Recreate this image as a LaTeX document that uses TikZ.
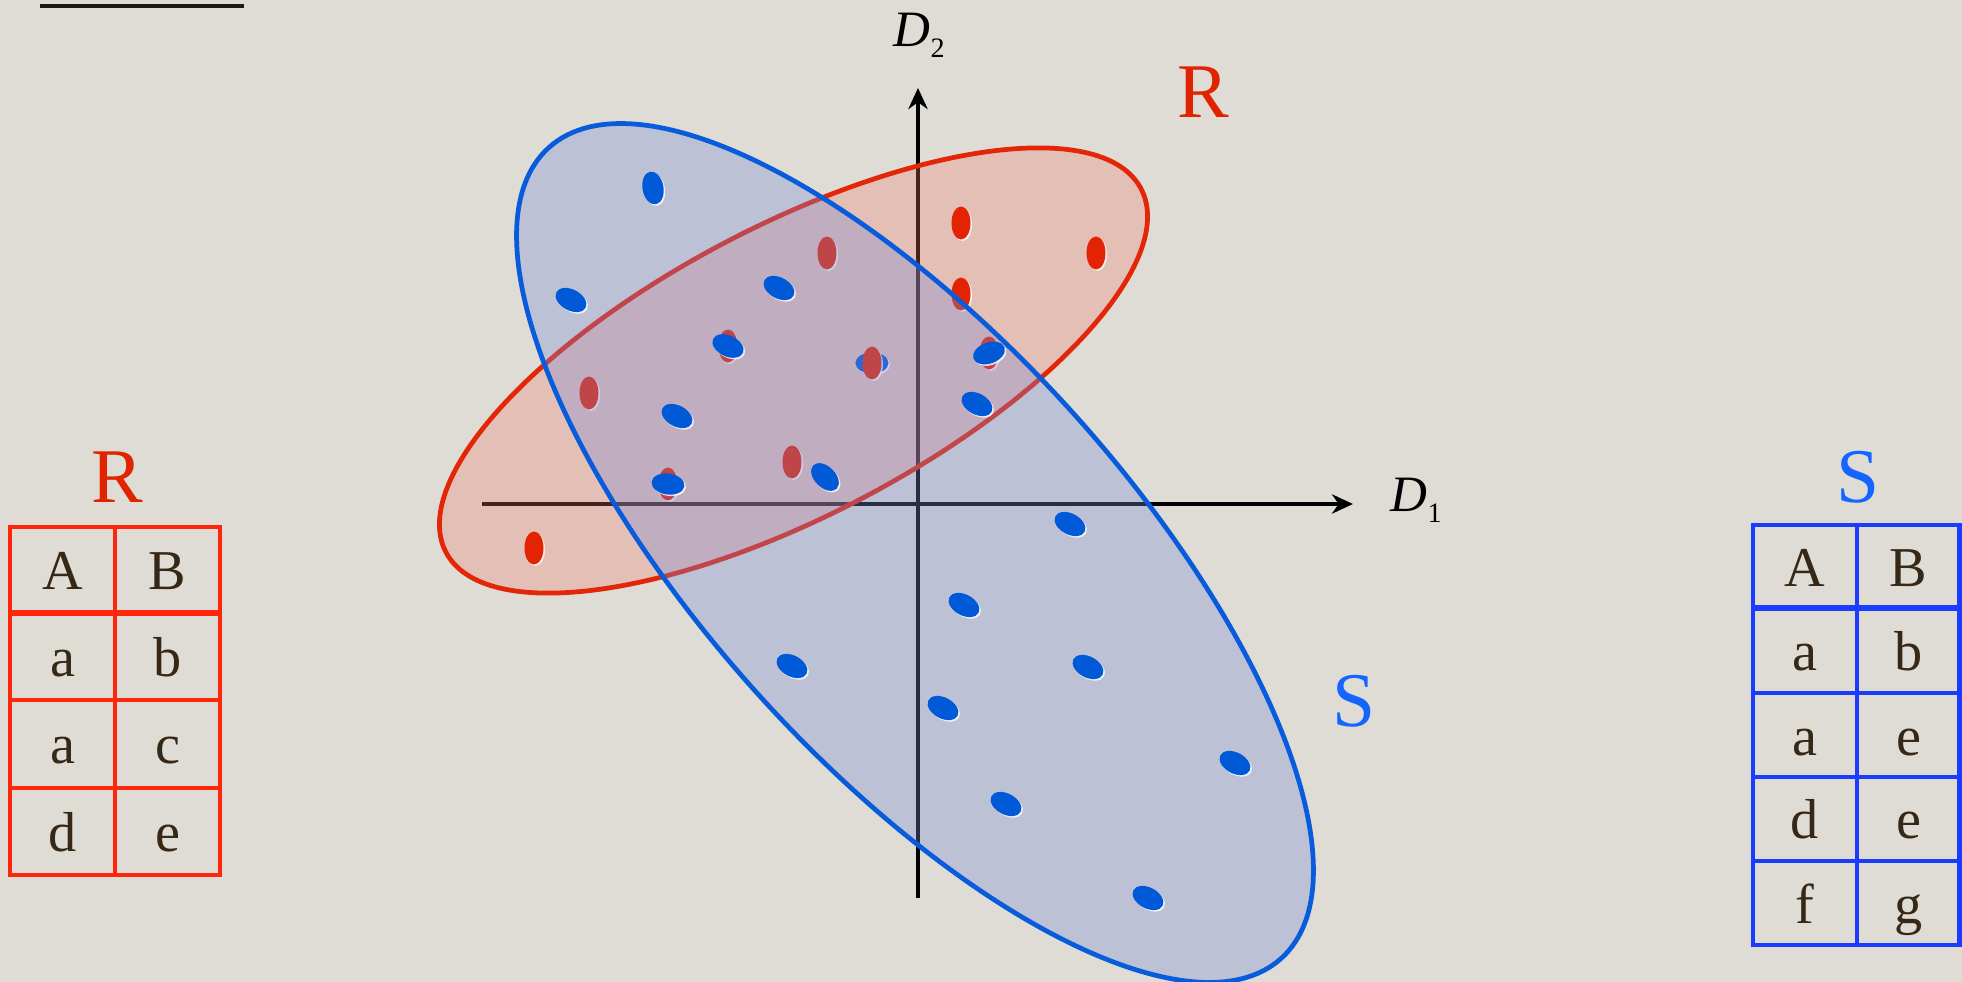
\documentclass[tikz,border=0pt]{standalone}
\usepackage{fontspec}
\setmainfont{Liberation Serif}
\usetikzlibrary{arrows.meta}
\definecolor{bgc}{RGB}{222,220,213}
\definecolor{redline}{RGB}{228,38,8}
\definecolor{redfillc}{RGB}{241,121,103}
\definecolor{bluefillc}{RGB}{123,138,215}
\definecolor{blueline}{RGB}{8,92,220}
\definecolor{bdotc}{RGB}{0,90,215}
\definecolor{rdotc}{RGB}{226,36,4}
\definecolor{tabred}{RGB}{255,38,12}
\definecolor{tabblue}{RGB}{25,60,255}
\definecolor{labR}{RGB}{225,35,0}
\definecolor{labS}{RGB}{20,100,255}
\definecolor{txtc}{RGB}{55,40,22}
\newcommand\reddot[2]{%
  \fill[white,opacity=.75,shift={(#1+1.5,#2+1.5)}] (0,0) ellipse [x radius=0.095cm,y radius=0.165cm];
  \fill[rdotc,shift={(#1,#2)}] (0,0) ellipse [x radius=0.095cm,y radius=0.165cm];}
\newcommand\bluedot[3]{%
  \fill[white,opacity=.8,shift={(#1+1.5,#2+1.5)},rotate=#3] (0,0) ellipse [x radius=0.165cm,y radius=0.105cm];
  \fill[bdotc,shift={(#1,#2)},rotate=#3] (0,0) ellipse [x radius=0.165cm,y radius=0.105cm];}
\begin{document}
\begin{tikzpicture}[x=0.01cm,y=-0.01cm,
  axis/.style={line width=1pt,draw=black,-{Stealth[length=6pt,width=5.5pt]}},
  lbl/.style={font=\fontsize{22}{26}\selectfont,inner sep=0pt,anchor=base},
  cell/.style={font=\fontsize{16}{19}\selectfont,text=txtc,inner sep=0pt,anchor=base},
  tabR/.style={draw=tabred,line width=1.2pt},
  tabS/.style={draw=tabblue,line width=1.2pt},
  dlbl/.style={font=\fontsize{14.5}{17}\selectfont,inner sep=0pt,anchor=base west}]
\fill[bgc] (0,0) rectangle (1962,982);
\useasboundingbox (0,0) rectangle (1962,982);
% top-left rule
\coordinate (rl) at (40,6); \coordinate (rr) at (244,6);
\draw[line width=1.1pt,black!90] (rl) -- (rr);
% axes
\coordinate (xl) at (482,504); \coordinate (xr) at (1353,504);
\coordinate (yb) at (918,898); \coordinate (yt) at (918,88);
\draw[axis] (xl) -- (xr);
\draw[axis] (yb) -- (yt);
\node[dlbl] (D1) at (1390,512) {\textit{D}\raisebox{-3pt}{\fontsize{8}{9}\selectfont 1}};
\node[dlbl] (D2) at (893,47) {\textit{D}\raisebox{-3pt}{\fontsize{8}{9}\selectfont 2}};
% red set
\fill[redfillc,fill opacity=0.29,shift={(793.5,370.5)},rotate=27.6] (0,0) ellipse [x radius=3.92cm,y radius=1.45cm];
\draw[redline,line width=1.35pt,shift={(793.5,370.5)},rotate=27.6] (0,0) ellipse [x radius=3.92cm,y radius=1.45cm];
\bluedot{872}{363}{0}
\reddot{961}{223}
\reddot{1096}{253}
\reddot{961}{294}
\reddot{827}{253}
\reddot{728}{346}
\reddot{872}{363}
\reddot{989}{353}
\reddot{589}{393}
\reddot{792}{462}
\reddot{668}{484}
\reddot{534}{548}
% blue set
\fill[bluefillc,fill opacity=0.325,shift={(915,553)},rotate=-47.9] (0,0) ellipse [x radius=5.46cm,y radius=2.11cm];
\draw[blueline,line width=1.35pt,shift={(915,553)},rotate=-47.9] (0,0) ellipse [x radius=5.46cm,y radius=2.11cm];
\bluedot{653}{188}{100}
\bluedot{571}{300}{-28}
\bluedot{779}{288}{-28}
\bluedot{728}{346}{-25}
\bluedot{989}{353}{20}
\bluedot{677}{416}{-28}
\bluedot{977}{404}{-28}
\bluedot{668}{484}{-8}
\bluedot{825}{477}{-45}
\bluedot{1070}{524}{-28}
\bluedot{964}{605}{-28}
\bluedot{1088}{667}{-28}
\bluedot{792}{666}{-28}
\bluedot{943}{708}{-28}
\bluedot{1235}{763}{-28}
\bluedot{1006}{804}{-28}
\bluedot{1148}{898}{-28}
% set labels
\node[lbl,text=labR] (Rlab) at (1203,118) {R};
\node[lbl,text=labS] (Slab) at (1354,726) {S};
% table R
\node[lbl,text=labR] (Rtab) at (117.5,502) {R};
\draw[tabR] (10,527) rectangle (220,875);
\draw[tabR] (115,527) -- (115,875);
\draw[tabR,line width=1.8pt] (10,613) -- (220,613);
\draw[tabR] (10,700) -- (220,700);
\draw[tabR] (10,788) -- (220,788);
\node[cell] (rA) at (62.5,590) {A};
\node[cell] (rB) at (167.5,590) {B};
\node[cell] (r1a) at (62.5,676) {a};
\node[cell] (r1b) at (167.5,676) {b};
\node[cell] (r2a) at (62.5,764) {a};
\node[cell] (r2b) at (167.5,764) {c};
\node[cell] (r3a) at (62.5,851) {d};
\node[cell] (r3b) at (167.5,851) {e};
% table S
\node[lbl,text=labS] (Stab) at (1858,502) {S};
\draw[tabS] (1753,525) rectangle (1959.5,945);
\draw[tabS] (1857,525) -- (1857,945);
\draw[tabS,line width=1.8pt] (1753,608) -- (1959.5,608);
\draw[tabS] (1753,693) -- (1959.5,693);
\draw[tabS] (1753,777) -- (1959.5,777);
\draw[tabS] (1753,861) -- (1959.5,861);
\node[cell] (sA) at (1805,587) {A};
\node[cell] (sB) at (1908.5,587) {B};
\node[cell] (s1a) at (1805,671) {a};
\node[cell] (s1b) at (1908.5,671) {b};
\node[cell] (s2a) at (1805,755) {a};
\node[cell] (s2b) at (1908.5,755) {e};
\node[cell] (s3a) at (1805,839) {d};
\node[cell] (s3b) at (1908.5,839) {e};
\node[cell] (s4a) at (1805,923) {f};
\node[cell] (s4b) at (1908.5,923) {g};
\end{tikzpicture}
\end{document}
